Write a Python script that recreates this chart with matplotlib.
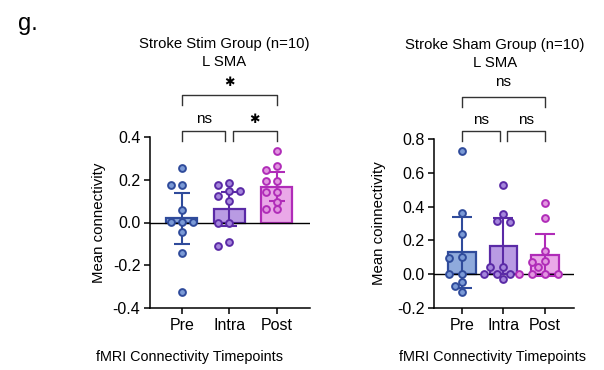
import numpy as np
import matplotlib
matplotlib.use('Agg')
import matplotlib.pyplot as plt

plt.rcParams['font.family'] = ['Liberation Sans', 'DejaVu Sans']
plt.rcParams['axes.unicode_minus'] = False

timepoints = ['Pre', 'Intra', 'Post']

# Stroke Stim group, L SMA
stim_pre = [0.257, 0.177, 0.177, 0.059, 0.003, 0.003, 0.003, -0.043, -0.143, -0.326]
stim_intra = [0.183, 0.177, 0.147, 0.147, 0.126, 0.099, 0.0, 0.0, -0.093, -0.109]
stim_post = [0.333, 0.265, 0.245, 0.194, 0.194, 0.144, 0.144, 0.098, 0.062, 0.062]
stim_mean = [0.019, 0.065, 0.167]
stim_err = [0.121, 0.080, 0.067]
stim_sig = ['ns', '*', '*']

# Stroke Sham group, L SMA
sham_pre = [0.729, 0.360, 0.240, 0.103, 0.098, 0.004, 0.004, -0.048, -0.069, -0.105]
sham_intra = [0.527, 0.356, 0.315, 0.307, 0.040, 0.040, 0.0, 0.0, 0.0, -0.030]
sham_post = [0.420, 0.333, 0.135, 0.079, 0.073, 0.040, 0.004, 0.004, 0.004, 0.004]
sham_mean = [0.131, 0.166, 0.113]
sham_err = [0.210, 0.165, 0.125]
sham_sig = ['ns', 'ns', 'ns']

fills = ['#8faadc', '#b99be3', '#eaa8e8']
edges = ['#2f4b9b', '#5a2aa6', '#b02cb8']
dot_fills = ['#7b9ad6', '#a586dc', '#e295e0']


# simple swarm: spread points that would overlap, working in pixels
def swarm_x(ax, x0, vals, step, diam=7.0):
    pts = ax.transData.transform([(x0, v) for v in vals])
    placed = []
    xs = []
    for px, py in pts:
        k_list = [0]
        for k in range(1, 10):
            k_list += [-k, k]
        for k in k_list:
            cx = px + k * step
            if all((cx - qx) ** 2 + (py - qy) ** 2 >= diam ** 2 for qx, qy in placed):
                break
        placed.append((cx, py))
        xs.append(ax.transData.inverted().transform((cx, py))[0])
    return xs


def bracket(ax, x1, x2, y, leg, label, ty, fs):
    ax.plot([x1, x1, x2, x2], [y - leg, y, y, y - leg], color='#333333', lw=1.0,
            transform=ax.get_xaxis_transform(), clip_on=False)
    if label == '*':
        # heavy centred asterisk like the prism style
        ax.text((x1 + x2) / 2, ty, '\u2731', ha='center', va='center', fontsize=9,
                family='DejaVu Sans', transform=ax.get_xaxis_transform())
    else:
        ax.text((x1 + x2) / 2, ty, label, ha='center', va='center', fontsize=fs,
                transform=ax.get_xaxis_transform())


def panel(ax, groups, means, errs, sig, ylim, yticks, ylabel, title, label_x, br, step, cap):
    ax.set_xlim(-0.67, 2.7)
    ax.set_ylim(*ylim)
    x = np.arange(len(timepoints))
    ax.bar(x, means, width=0.66, color=fills, edgecolor=edges, linewidth=1.6, zorder=2)
    ax.axhline(0, color='black', lw=1.0, zorder=3)
    for i in range(3):
        ax.errorbar(x[i], means[i], yerr=errs[i], color=edges[i], capsize=cap,
                    elinewidth=1.5, capthick=1.5, zorder=4)
        xs = swarm_x(ax, x[i], groups[i], step)
        ax.scatter(xs, groups[i], s=24, facecolor=dot_fills[i], edgecolor=edges[i],
                   linewidth=1.4, zorder=5, clip_on=False)
    ax.set_xticks(x)
    ax.set_xticklabels(timepoints, fontsize=11.5)
    ax.set_yticks(yticks)
    ax.set_yticklabels(['%.1f' % t for t in yticks], fontsize=11.5)
    ax.tick_params(length=4, width=1.1, pad=3)
    for s in ['top', 'right']:
        ax.spines[s].set_visible(False)
    for s in ['left', 'bottom']:
        ax.spines[s].set_linewidth(1.1)
    ax.set_ylabel(ylabel, fontsize=10.8)
    ax.yaxis.set_label_coords(label_x, 0.5)

    low_y, low_leg, low_ty, top_y, top_leg, top_ty, t1, t2, tx = br
    bracket(ax, 0, 0.92, low_y, low_leg, sig[0], low_ty, 11)
    bracket(ax, 1.08, 2, low_y, low_leg, sig[1], low_ty, 11)
    bracket(ax, 0, 2, top_y, top_leg, sig[2], top_ty, 11)
    ax.text(tx, t1, title, ha='center', va='center', fontsize=10.7,
            transform=ax.get_xaxis_transform())
    ax.text(tx, t2, 'L SMA', ha='center', va='center', fontsize=10.7,
            transform=ax.get_xaxis_transform())


fig = plt.figure(figsize=(6.04, 3.7), dpi=100)
ax1 = fig.add_axes([150 / 604, 1 - 308 / 370, 160 / 604, 171 / 370])
ax2 = fig.add_axes([434 / 604, 1 - 308 / 370, 140 / 604, 169 / 370])

panel(ax1, [stim_pre, stim_intra, stim_post], stim_mean, stim_err, stim_sig,
      (-0.4, 0.4), [-0.4, -0.2, 0.0, 0.2, 0.4], 'Mean connectivity',
      'Stroke Stim Group (n=10)', -0.275,
      (1.035, 0.058, 1.105, 1.246, 0.058, 1.316, 1.544, 1.439, 0.9), 11, 6)
panel(ax2, [sham_pre, sham_intra, sham_post], sham_mean, sham_err, sham_sig,
      (-0.2, 0.8), [-0.2, 0.0, 0.2, 0.4, 0.6, 0.8], 'Mean coinnectivity',
      'Stroke Sham Group (n=10)', -0.343,
      (1.047, 0.058, 1.112, 1.250, 0.058, 1.337, 1.556, 1.45, 0.8), 6.5, 7)

fig.text(190 / 604, 1 - 357 / 370, 'fMRI Connectivity Timepoints', ha='center', va='center', fontsize=10.4)
fig.text(492 / 604, 1 - 357 / 370, 'fMRI Connectivity Timepoints', ha='center', va='center', fontsize=10.4)
fig.text(18 / 604, 1 - 24 / 370, 'g.', ha='left', va='center', fontsize=17)

fig.savefig('out.png', dpi=100)
